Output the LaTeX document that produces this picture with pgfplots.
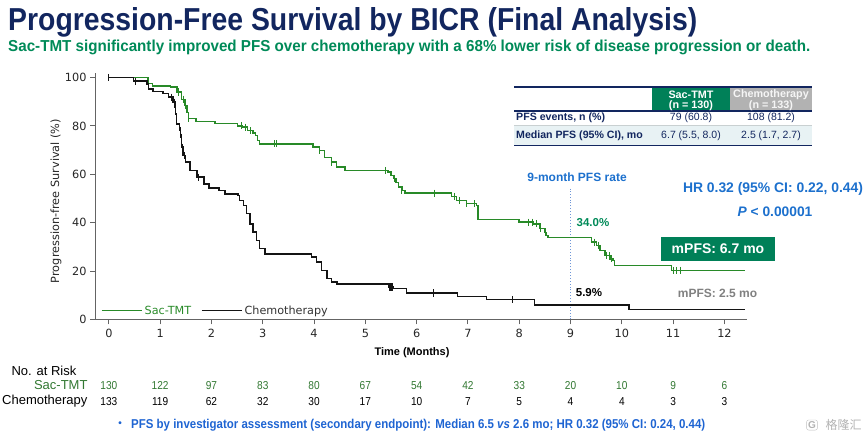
\documentclass[border=0pt]{standalone}
\usepackage{pgfplots}
\pgfplotsset{compat=1.18}
\usepackage{fontspec}
\setmainfont{Liberation Sans}
\newfontfamily\dejavu{DejaVu Sans}
\newfontfamily\narrow[FakeStretch=0.88]{Liberation Sans}
\newfontfamily\cjk{Noto Sans CJK SC}
\definecolor{navy}{RGB}{18,38,95}
\definecolor{subgreen}{RGB}{0,138,88}
\definecolor{boxgreen}{RGB}{0,128,88}
\definecolor{curvegreen}{RGB}{40,138,40}
\definecolor{curveblack}{RGB}{20,20,20}
\definecolor{annblue}{RGB}{28,112,205}
\definecolor{footblue}{RGB}{30,100,210}
\definecolor{dotblue}{RGB}{110,150,215}
\definecolor{hdrgray}{RGB}{178,178,178}
\definecolor{rowfill}{RGB}{232,242,244}
\definecolor{axisgray}{RGB}{100,100,100}
\definecolor{riskgreen}{RGB}{50,120,50}
\begin{document}
\begin{tikzpicture}
\path[use as bounding box] (0pt,0pt) rectangle (866pt,-437pt);
% axis
\begin{axis}[at={(95pt,-319.3pt)}, anchor=south west, scale only axis,
  width=652pt, height=246.6pt,
  xmin=-0.27, xmax=12.44, ymin=0, ymax=102,
  axis lines=left, axis line style={-, draw=axisgray, line width=1pt},
  xtick={0,...,12}, ytick={0,20,...,100},
  tick align=outside, major tick length=5pt,
  tick style={axisgray, line width=0.9pt},
  ticklabel style={font=\dejavu\fontsize{11.3}{13}\selectfont, text=black!85},
  xticklabel style={yshift=-1.5pt},
  /pgf/number format/assume math mode=true,
  clip=false,
  legend cell align=left,
  legend columns=2,
  legend style={at={(axis cs:-0.15,3.6)}, anchor=west, draw=none, fill=none,
    inner sep=0pt, outer sep=0pt, font=\dejavu\fontsize{11.2}{13}\selectfont,
    /tikz/every even column/.append style={column sep=8pt}},
  legend image code/.code={\draw[#1, line width=1.4pt] (0pt,0pt) -- (36pt,0pt); \path (0pt,0pt) -- (40pt,0pt);}
]
\addplot[dotted, color=dotblue, line width=0.9pt, forget plot] coordinates {(9,0) (9,54)};
\addplot[const plot, color=curvegreen, line width=1.5pt] coordinates {
(0,100) (0.76,97.6) (0.85,96.5) (1.20,96) (1.33,94) (1.42,91) (1.48,88.4) (1.52,85.5)
(1.55,83) (1.70,81.8) (2.07,81) (2.51,80) (2.60,79.5) (2.70,78) (2.81,77) (2.86,76)
(2.90,74) (2.94,72.6) (3.98,71.2) (4.11,69.8) (4.20,67) (4.34,65) (4.44,63) (4.60,61.6)
(5.44,60.9) (5.50,59.5) (5.55,58.3) (5.60,56.5) (5.65,54.7) (5.71,53.3) (5.77,52.2)
(6.68,50.8) (6.78,49.2) (6.97,47.8) (7.17,47.1) (7.20,41.2) (8.00,40.2) (8.27,39.5)
(8.40,37.5) (8.50,36.0) (8.53,34.7) (8.56,33.8) (9.41,31.9) (9.51,30.6) (9.57,28.5)
(9.67,26.4) (9.77,25.0) (9.83,24.4) (9.86,22.3) (10.97,20.2) (12.40,20.2)};
\addlegendentry{\textcolor{curvegreen}{Sac-TMT}}
\addplot[const plot, color=curveblack, line width=1.5pt] coordinates {
(0,100) (0.48,98.5) (0.74,97.4) (0.77,95.3) (0.86,94.3) (1.06,93.5) (1.16,91.9) (1.25,89.8)
(1.29,87.7) (1.30,85) (1.32,80.8) (1.38,78.1) (1.40,75.3) (1.42,71.2) (1.45,67.8) (1.49,65)
(1.58,61.6) (1.72,58.8) (1.85,56) (1.95,54.4) (2.15,53.3) (2.26,51.9) (2.52,51.2) (2.55,49.2)
(2.62,47.1) (2.68,43.7) (2.75,39.5) (2.81,36.1) (2.88,32.6) (2.94,29.2) (3.04,27.1)
(3.95,25.7) (4.05,23.7) (4.15,20.2) (4.25,16.8) (4.34,15.4) (4.45,14.7) (5.45,13.4)
(5.55,12.7) (5.80,10.9) (6.80,9.5) (7.36,8.1) (8.30,5.9) (10.14,4.0) (12.40,4.0)};
\addlegendentry{\textcolor{black!80}{Chemotherapy}}
% censor marks
\addplot[only marks, mark=|, mark size=3.6pt, color=curvegreen, mark options={line width=1pt}, forget plot] coordinates {
(1.35,94) (1.45,91) (1.50,88.4) (1.56,83) (2.59,80) (2.67,79.5) (2.76,78) (3.22,72.6) (3.26,72.6)
(4.11,69.8) (4.34,65) (5.40,61.6) (5.56,58.3) (5.71,53.3) (6.34,52.2) (6.74,50.8) (6.84,49.2)
(6.98,47.8) (7.13,47.8) (8.19,40.2) (8.25,40.2) (8.34,39.5) (8.42,37.5) (8.52,36.0)
(9.46,31.9) (9.54,30.6) (9.70,26.4) (9.75,26.4) (9.80,25.0) (11.0,20.2) (11.07,20.2) (11.14,20.2)};
\addplot[only marks, mark=|, mark size=3.6pt, color=curveblack, mark options={line width=1pt}, forget plot] coordinates {
(0.0,100) (0.52,98.5) (1.23,91.9) (1.27,89.8) (1.39,78.1) (1.41,75.3) (1.43,71.2) (1.47,67.8)
(1.74,58.8) (5.47,13.4) (5.49,13.4) (5.51,13.4) (5.53,13.4) (6.32,10.9) (7.87,8.1)};
\end{axis}
\begin{scope}[x=1pt,y=1pt]
% titles
\node[anchor=base west, inner sep=0, text=navy] at (8,-30) {\resizebox{689pt}{23pt}{\bfseries Progression-Free Survival by BICR (Final Analysis)}};
\node[anchor=base west, inner sep=0, text=subgreen] at (8,-51) {\resizebox{802pt}{11.5pt}{\bfseries Sac-TMT significantly improved PFS over chemotherapy with a 68\% lower risk of disease progression or death.}};
% table
\fill[boxgreen] (651.7,-86.7) rectangle (730,-111);
\fill[hdrgray] (730,-86.7) rectangle (811.7,-111);
\fill[rowfill] (514,-125) rectangle (811.7,-145.5);
\draw[navy, line width=1.6pt] (514,-86.7) -- (811.7,-86.7);
\draw[navy, line width=1.2pt] (514,-111) -- (811.7,-111);
\draw[rowfill!70!gray, line width=0.6pt] (514,-125) -- (811.7,-125);
\draw[navy, line width=1.6pt] (514,-145.5) -- (811.7,-145.5);
\begin{scope}[every node/.style={inner sep=0, font=\fontsize{10.5}{12}\selectfont}]
\node[text=white, font=\bfseries\fontsize{10.8}{12}\selectfont] at (691,-94.5) {Sac-TMT};
\node[text=white, font=\bfseries\fontsize{10.8}{12}\selectfont] at (691,-105.5) {(n = 130)};
\node[text=white!92!gray, font=\bfseries\fontsize{10.8}{12}\selectfont] at (771,-94.5) {Chemotherapy};
\node[text=white!92!gray, font=\bfseries\fontsize{10.8}{12}\selectfont] at (771,-105.5) {(n = 133)};
\node[anchor=west, text=navy, font=\bfseries\fontsize{10.6}{12}\selectfont] at (516,-118) {PFS events, n (\%)};
\node[text=navy] at (691,-118) {79 (60.8)};
\node[text=navy] at (771,-118) {108 (81.2)};
\node[anchor=west, text=navy, font=\bfseries\fontsize{10.6}{12}\selectfont] at (516,-135.5) {Median PFS (95\% CI), mo};
\node[text=navy] at (691,-135.5) {6.7 (5.5, 8.0)};
\node[text=navy] at (771,-135.5) {2.5 (1.7, 2.7)};
\end{scope}
% axis labels
\node[font=\bfseries\fontsize{11}{13}\selectfont] at (412,-353) {Time (Months)};
\node[rotate=90, font=\dejavu\fontsize{11.3}{13}\selectfont, text=black!85] at (56,-201) {Progression-free Survival (\%)};
% annotations
\node[font=\bfseries\fontsize{12}{13}\selectfont, text=annblue] at (577,-177) {9-month PFS rate};
\node[font=\bfseries\fontsize{11.5}{12}\selectfont, text=subgreen] at (593,-223) {34.0\%};
\node[font=\bfseries\fontsize{11.5}{12}\selectfont, text=black] at (589,-293) {5.9\%};
\node[font=\bfseries\fontsize{13.9}{15}\selectfont, text=annblue] at (773,-189.3) {HR 0.32 (95\% CI: 0.22, 0.44)};
\node[font=\bfseries\fontsize{13.8}{15}\selectfont, text=annblue] at (775,-211.7) {\textit{P} < 0.00001};
\fill[boxgreen] (661,-237) rectangle (775,-260.7);
\node[font=\bfseries\fontsize{14}{15}\selectfont, text=white] at (718,-248.9) {mPFS: 6.7 mo};
\node[font=\bfseries\fontsize{12}{14}\selectfont, text=black!50] at (717.5,-293.3) {mPFS: 2.5 mo};
% risk table
\node[anchor=west, font=\fontsize{13}{15}\selectfont] at (8,-371) {No. at Risk};
\node[anchor=east, font=\fontsize{13}{15}\selectfont, text=riskgreen] at (91,-385.5) {Sac-TMT};
\node[anchor=east, font=\fontsize{13}{15}\selectfont] at (91,-401.5) {Chemotherapy};
\foreach \n [count=\i from 0] in {130,122,97,83,80,67,54,42,33,20,10,9,6}
  \node[font=\narrow\fontsize{11.5}{13}\selectfont, text=riskgreen] at ({108.85+51.3*\i},-385.5) {\n};
\foreach \n [count=\i from 0] in {133,119,62,32,30,17,10,7,5,4,4,3,3}
  \node[font=\narrow\fontsize{11.5}{13}\selectfont] at ({108.85+51.3*\i},-401.5) {\n};
% footnote
\node[text=footblue, font=\bfseries\fontsize{10}{12}\selectfont] at (120,-424) {•};
\node[anchor=base west, inner sep=0, text=footblue] at (131,-428.5) {\resizebox{574pt}{9.3pt}{\bfseries PFS by investigator assessment (secondary endpoint): Median 6.5 \textit{vs} 2.6 mo; HR 0.32 (95\% CI: 0.24, 0.44)}};
% watermark
\node[draw=black!25, rounded corners=2pt, inner sep=1.5pt, text=black!30, font=\bfseries\fontsize{10}{11}\selectfont] at (812,-425) {G};
\node[text=black!30, font=\cjk\fontsize{12}{13}\selectfont, anchor=west] at (822,-425) {格隆汇};
\end{scope}
\end{tikzpicture}
\end{document}
